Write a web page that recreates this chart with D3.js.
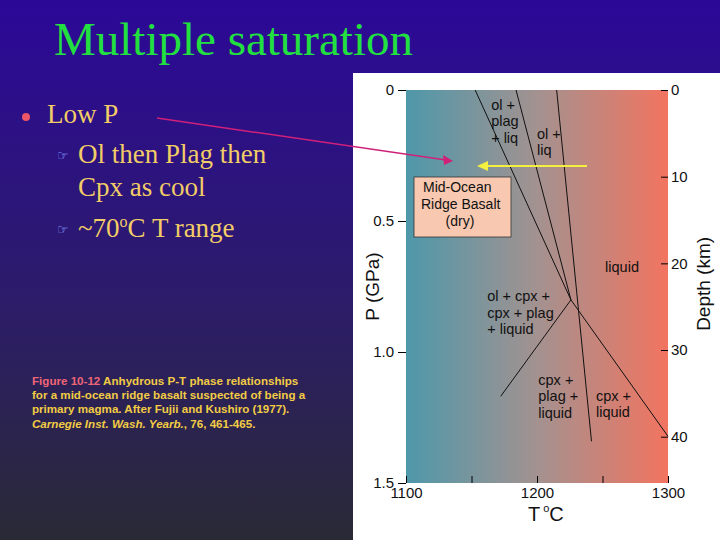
<!DOCTYPE html>
<html><head><meta charset="utf-8">
<script src="https://cdn.jsdelivr.net/npm/d3@7"></script>
<style>body{margin:0}svg{display:block}</style>
</head><body>
<svg width="720" height="540"></svg>
<script>
// phase boundaries, [T °C, P GPa]
const boundaries = [
  [[1152.8, 0], [1225.9, 0.801], [1300, 1.322]],
  [[1184.0, 0], [1225.9, 0.801]],
  [[1215.0, 0], [1241.6, 1.341]],
  [[1225.9, 0.801], [1172.3, 1.169]]
];
const fieldLabels = [
  {t: 1165, p: 0.03, lines: ['ol +', 'plag', '+ liq']},
  {t: 1200, p: 0.14, lines: ['ol +', 'liq']},
  {t: 1252, p: 0.65, lines: ['liquid']},
  {t: 1162, p: 0.76, lines: ['ol + cpx +', 'cpx + plag', '+ liquid']},
  {t: 1201, p: 1.08, lines: ['cpx +', 'plag +', 'liquid']},
  {t: 1245, p: 1.14, lines: ['cpx +', 'liquid']}
];
const pTicks = [0, 0.5, 1.0, 1.5];
const tTicks = [1100, 1150, 1200, 1250, 1300];
const depthTicks = [0, 10, 20, 30, 40];
const bullets = [
  {text: 'Low P', level: 0},
  {text: 'Ol then Plag then', level: 1},
  {text: 'Cpx as cool', level: 2},
  {text: '~70', sup: 'o', rest: 'C T range', level: 1}
];

const svg = d3.select('svg');
const defs = svg.append('defs');
const bg = defs.append('linearGradient').attr('id', 'bg').attr('x1', 0).attr('x2', 0).attr('y1', 0).attr('y2', 1);
bg.append('stop').attr('offset', 0).attr('stop-color', '#2c0898');
bg.append('stop').attr('offset', 0.55).attr('stop-color', '#2c1c6a');
bg.append('stop').attr('offset', 1).attr('stop-color', '#2a2a36');
const pg = defs.append('linearGradient').attr('id', 'pg');
pg.append('stop').attr('offset', 0).attr('stop-color', '#4e98aa');
pg.append('stop').attr('offset', 0.5).attr('stop-color', '#a39290');
pg.append('stop').attr('offset', 1).attr('stop-color', '#f27460');

svg.append('rect').attr('width', 720).attr('height', 540).attr('fill', 'url(#bg)');
svg.append('text').attr('x', 54).attr('y', 55).attr('fill', '#22e040')
  .style('font', '47px "Liberation Serif", serif').text('Multiple saturation');

// bullets
const by = [123, 163, 196, 237];
bullets.forEach((b, i) => {
  const x = b.level === 0 ? 47 : 78;
  if (b.level === 0) svg.append('circle').attr('cx', 26).attr('cy', 117).attr('r', 4).attr('fill', '#ee5566');
  if (b.level === 1) svg.append('text').attr('x', 57).attr('y', by[i] - 3).attr('fill', '#8a9aff')
    .style('font', '13px "DejaVu Sans"').text('☞');
  const t = svg.append('text').attr('x', x).attr('y', by[i]).attr('fill', '#f2cc66')
    .style('font', '27px "Liberation Serif", serif').text(b.text);
  if (b.sup) {
    t.append('tspan').attr('dy', -10).style('font-size', '16px').text(b.sup);
    t.append('tspan').attr('dy', 10).text(b.rest);
  }
});

// caption
const cap = svg.append('g').style('font', 'bold 11.6px "Liberation Sans", Arial').attr('fill', '#f2cc44');
const c1 = cap.append('text').attr('x', 32).attr('y', 385);
c1.append('tspan').attr('fill', '#ee6677').text('Figure 10-12 ');
c1.append('tspan').text('Anhydrous P-T phase relationships');
cap.append('text').attr('x', 32).attr('y', 399).text('for a mid-ocean ridge basalt suspected of being a');
cap.append('text').attr('x', 32).attr('y', 413).text('primary magma. After Fujii and Kushiro (1977).');
const c4 = cap.append('text').attr('x', 32).attr('y', 428);
c4.append('tspan').style('font-style', 'italic').text('Carnegie Inst. Wash. Yearb.');
c4.append('tspan').text(', 76, 461-465.');

// white panel
svg.append('rect').attr('x', 353).attr('y', 73).attr('width', 367).attr('height', 467).attr('fill', '#fff');

const x = d3.scaleLinear().domain([1100, 1300]).range([406, 668]);
const y = d3.scaleLinear().domain([0, 1.5]).range([90, 483]);
const yd = d3.scaleLinear().domain([0, 40]).range([90, 436.7]);

svg.append('rect').attr('x', x(1100)).attr('y', y(0)).attr('width', x(1300) - x(1100))
  .attr('height', y(1.5) - y(0)).attr('fill', 'url(#pg)');

const font = '15px "Liberation Sans", Arial';
svg.append('g').attr('transform', `translate(${x(1100)},0)`)
  .call(d3.axisLeft(y).tickValues(pTicks).tickSize(8).tickPadding(4).tickFormat(d => d === 0 ? '0' : d3.format('.1f')(d)))
  .call(g => g.select('.domain').remove())
  .call(g => g.selectAll('text').style('font', font).attr('fill', '#111'));
svg.append('g').attr('transform', `translate(0,${y(1.5)})`)
  .call(d3.axisTop(x).tickValues(tTicks).tickSize(7).tickFormat(''))
  .call(g => g.select('.domain').remove());
svg.append('g').attr('transform', `translate(0,${y(1.5)})`)
  .call(d3.axisBottom(x).tickValues([1100, 1200, 1300]).tickSize(0).tickPadding(4).tickFormat(d3.format('d')))
  .call(g => g.select('.domain').remove())
  .call(g => g.selectAll('text').style('font', font).attr('fill', '#111'));
svg.append('g').attr('transform', `translate(${x(1300)},0)`)
  .call(d3.axisLeft(yd).tickValues(depthTicks).tickSize(7).tickFormat(''))
  .call(g => g.select('.domain').remove());
svg.append('g').attr('transform', `translate(${x(1300)},0)`)
  .call(d3.axisRight(yd).tickValues(depthTicks).tickSize(0).tickPadding(3))
  .call(g => g.select('.domain').remove())
  .call(g => g.selectAll('text').style('font', font).attr('fill', '#111'));

svg.append('text').attr('transform', `translate(379,${y(0.75)}) rotate(-90)`).attr('text-anchor', 'middle')
  .style('font', '19px "Liberation Sans", Arial').attr('fill', '#111').text('P (GPa)');
svg.append('text').attr('transform', `translate(710,${y(0.74)}) rotate(-90)`).attr('text-anchor', 'middle')
  .style('font', '19px "Liberation Sans", Arial').attr('fill', '#111').text('Depth (km)');
const tl = svg.append('text').attr('x', 528).attr('y', 521)
  .style('font', '20px "Liberation Sans", Arial').attr('fill', '#111').text('T');
tl.append('tspan').attr('dx', 3).attr('dy', -9).style('font-size', '11px').text('o');
tl.append('tspan').attr('dy', 9).text('C');

const line = d3.line().x(d => x(d[0])).y(d => y(d[1]));
svg.append('g').selectAll('path').data(boundaries).join('path')
  .attr('d', line).attr('fill', 'none').attr('stroke', '#111').attr('stroke-width', 1);

const fl = svg.append('g').style('font', '14.5px "Liberation Sans", Arial').attr('fill', '#111');
fieldLabels.forEach(f => {
  f.lines.forEach((s, i) => fl.append('text').attr('x', x(f.t)).attr('y', y(f.p) + 12 + i * 16.5).text(s));
});

// MORB box
svg.append('rect').attr('x', 414).attr('y', 177).attr('width', 97).attr('height', 60)
  .attr('fill', '#f8c8b0').attr('stroke', '#333').attr('stroke-width', 0.8);
['Mid-Ocean', 'Ridge Basalt', '(dry)'].forEach((s, i) => {
  svg.append('text').attr('y', 192 + i * 17)
    .attr('text-anchor', i === 2 ? 'middle' : 'start')
    .attr('x', i === 0 ? 423 : i === 1 ? 421 : 460)
    .style('font', '14px "Liberation Sans", Arial').attr('fill', '#111').text(s);
});

// arrows
svg.append('line').attr('x1', 157).attr('y1', 118).attr('x2', 446).attr('y2', 160)
  .attr('stroke', '#d0207a').attr('stroke-width', 1.5);
svg.append('path').attr('d', 'M453,161 L443,155 L444,165 Z').attr('fill', '#d0207a');
svg.append('line').attr('x1', 587).attr('y1', 166).attr('x2', 484).attr('y2', 166)
  .attr('stroke', '#f4f040').attr('stroke-width', 2);
svg.append('path').attr('d', 'M477,166 L488,161 L488,171 Z').attr('fill', '#f4f040');
</script>
</body></html>
